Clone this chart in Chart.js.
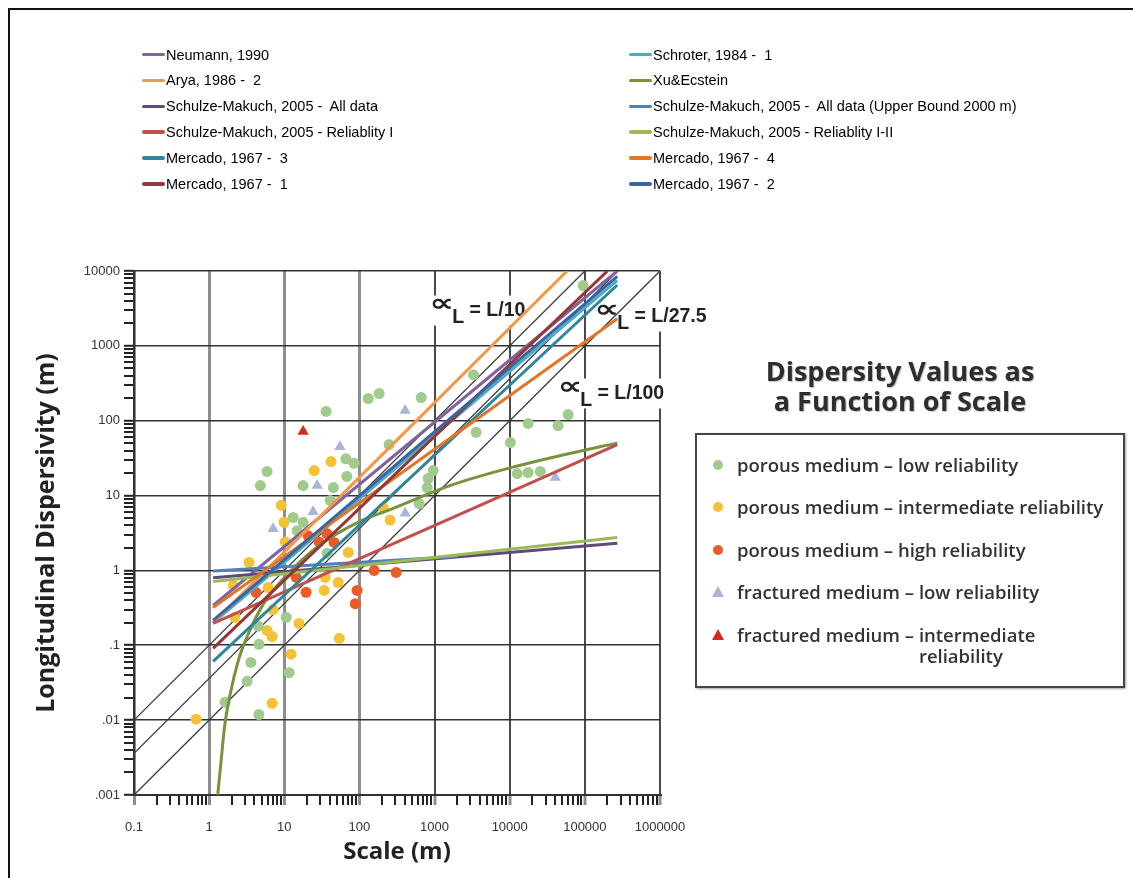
<!DOCTYPE html>
<html>
<head>
<meta charset="utf-8">
<title>Dispersity Values as a Function of Scale</title>
<script src="https://cdn.jsdelivr.net/npm/chart.js@4.4.1/dist/chart.umd.min.js"></script>
<style>
  body { margin: 0; background: #fff; }
  #pagina { position: relative; width: 1133px; height: 878px; overflow: hidden; background: #fff; }
  #marco { position: absolute; left: 8px; top: 8px; width: 1140px; height: 890px; border-left: 2px solid #111; border-top: 2px solid #111; }
  #grafico { position: absolute; left: 0; top: 0; }
  .muestra { position: absolute; width: 23px; height: 3.5px; border-radius: 2px; }
  .serie { position: absolute; font: 14.5px "Liberation Sans", Arial, sans-serif; color: #000; white-space: pre; line-height: 18px; }
  #titulo { position: absolute; left: 685px; top: 356px; width: 430px; text-align: center;
            font: 700 27px/30px "Open Sans", sans-serif; color: #2e2e2e; text-shadow: 1px 1px 1px rgba(0,0,0,0.25); }
  #caja { position: absolute; left: 695px; top: 433px; width: 426px; height: 251px; border: 2px solid #444;
          box-shadow: 1px 1px 2px rgba(0,0,0,0.35); }
  .item { position: absolute; left: 737px; width: 380px; display: flex; font: 600 18.5px/21px "Open Sans", sans-serif; color: #333; }
  .item span { white-space: pre; }
  .item .resto { white-space: normal; }
  .marca { position: absolute; }
</style>
</head>
<body>
<div id="pagina">
  <div id="marco"></div>
  <canvas id="grafico" width="1133" height="878"></canvas>
  <div id="titulo">Dispersity Values as<br>a Function of Scale</div>
  <div id="caja"></div>
</div>
<script>
// Etiquetas de los ejes
const xTickLabels = ["0.1", "1", "10", "100", "1000", "10000", "100000", "1000000"];
const yTickLabels = [".001", ".01", ".1", "1", "10", "100", "1000", "10000"];

// Curvas de los modelos [escala (m), dispersividad (m)]
const neumann = [[1.13, 0.34], [270000, 10000]];
const schroter = [[1.13, 0.2], [270000, 7500]];
const arya = [[1.13, 0.2], [58000, 10000]];
const xuEckstein = [[1.3, 0.001], [1.45, 0.003], [1.6, 0.008], [1.9, 0.022], [2.45, 0.063], [3.2, 0.13],
  [5.3, 0.36], [10, 0.8], [30, 2.2], [100, 4.5], [256, 6.5], [1600, 13.6], [11000, 24], [160000, 45], [270000, 50]];
const smAllData = [[1.13, 0.8], [270000, 2.3]];
const smUpperBound = [[1.13, 0.98], [2000, 1.53]];
const smRelI = [[1.13, 0.196], [270000, 48]];
const smRelIII = [[1.13, 0.71], [270000, 2.75]];
const mercado3 = [[1.13, 0.061], [270000, 6500]];
const mercado4 = [[1.13, 0.32], [270000, 2300]];
const mercado1 = [[1.13, 0.091], [200000, 10000]];
const mercado2 = [[1.13, 0.215], [270000, 8500]];

const seriesNames = ["Neumann, 1990", "Schroter, 1984 -  1", "Arya, 1986 -  2", "Xu&Ecstein",
  "Schulze-Makuch, 2005 -  All data", "Schulze-Makuch, 2005 -  All data (Upper Bound 2000 m)",
  "Schulze-Makuch, 2005 - Reliablity I", "Schulze-Makuch, 2005 - Reliablity I-II",
  "Mercado, 1967 -  3", "Mercado, 1967 -  4", "Mercado, 1967 -  1", "Mercado, 1967 -  2"];
const seriesData = [neumann, schroter, arya, xuEckstein, smAllData, smUpperBound, smRelI, smRelIII,
  mercado3, mercado4, mercado1, mercado2];

// Rectas de referencia aL = L/10, L/27.5, L/100
const refL10 = [[0.1, 0.01], [100000, 10000]];
const refL27 = [[0.1, 0.0036], [275000, 10000]];
const refL100 = [[0.1, 0.001], [1000000, 10000]];
const refTexts = ["= L/10", "= L/27.5", "= L/100"];
const refAnchors = [[929, 2540], [146000, 2110], [47000, 198]];

// Datos medidos [escala (m), dispersividad (m)]
const porousLow = [[95000, 6400], [3300, 410], [36, 133], [131, 198], [183, 231], [664, 204], [5.9, 21], [4.8, 13.6],
  [17.8, 13.6], [45, 12.8], [66, 31], [85, 27], [68, 18], [248, 48], [41, 8.6], [13.1, 5.1], [17.8, 4.4], [14.8, 3.4],
  [37, 1.7], [4.5, 0.18], [4.6, 0.103], [3.6, 0.059], [3.2, 0.033], [1.63, 0.0173], [4.6, 0.0119], [10.6, 0.236],
  [11.6, 0.043], [3580, 70], [10200, 51], [17600, 92], [44000, 86], [60000, 121], [12600, 19.7], [17600, 20.3],
  [25500, 21], [957, 21.6], [822, 16.9], [797, 12.8], [624, 7.8]];
const porousIntermediate = [[42, 28.5], [25, 21.6], [9.1, 7.4], [9.9, 4.4], [10.3, 2.4], [3.4, 1.28], [71, 1.74],
  [35, 0.81], [52, 0.69], [34, 0.54], [6.1, 0.59], [2.1, 0.63], [7.1, 0.3], [2.2, 0.236], [15.7, 0.196], [5.9, 0.158],
  [6.9, 0.131], [54, 0.124], [12.3, 0.076], [6.9, 0.0168], [0.67, 0.0103], [207, 6.9], [256, 4.7]];
const porousHigh = [[20.8, 2.9], [37, 3.1], [29, 2.4], [46, 2.37], [14.4, 0.81], [19.5, 0.51], [93, 0.54],
  [88, 0.36], [157, 1.0], [308, 0.94], [4.2, 0.51]];
const fracturedLow = [[406, 137], [40400, 17.5], [55, 45], [27.4, 13.6], [24.2, 6.1], [7.1, 3.6], [406, 5.8]];
const fracturedIntermediate = [[17.8, 72]];

const pointNames = ["porous medium – low reliability", "porous medium – intermediate reliability",
  "porous medium – high reliability", "fractured medium – low reliability",
  "fractured medium – intermediate reliability"];
const pointData = [porousLow, porousIntermediate, porousHigh, fracturedLow, fracturedIntermediate];

// Estilos
const seriesColors = ["#8064A2", "#4BACC6", "#F79646", "#77933C", "#604A7B", "#4F81BD",
  "#C0504D", "#9BBB59", "#31859C", "#E07628", "#953735", "#3B64A5"];
const pointColors = ["#A0CB8C", "#F4C234", "#EC5A26", "#A8B5D6", "#D42A1E"];
const pointShapes = ["circle", "circle", "circle", "triangle", "triangle"];

const toPts = arr => arr.map(p => ({ x: p[0], y: p[1] }));

const datasets = [];
[refL10, refL27, refL100].forEach(r => {
  datasets.push({ data: toPts(r), showLine: true, borderColor: "#3c3c3c", borderWidth: 1.3,
    pointRadius: 0, order: 100 });
});
pointData.forEach((d, i) => {
  datasets.push({ label: pointNames[i], data: toPts(d), backgroundColor: pointColors[i], borderWidth: 0,
    pointStyle: pointShapes[i], pointRadius: pointShapes[i] === "triangle" ? 6.5 : 5.5, order: 50 });
});
seriesData.forEach((d, i) => {
  datasets.push({ label: seriesNames[i], data: toPts(d), showLine: true, borderColor: seriesColors[i],
    borderWidth: 3, pointRadius: 0, cubicInterpolationMode: "monotone", order: 20 - i });
});

// Marcas del eje logaritmico: decadas y subdivisiones 2..9
function logTicks(labels) {
  const vals = labels.map(Number);
  const ticks = [];
  vals.forEach((v, i) => {
    ticks.push({ value: v, major: true });
    if (i < vals.length - 1) {
      for (let m = 2; m <= 9; m++) ticks.push({ value: v * m, major: false });
    }
  });
  return ticks;
}
function esDecada(v) {
  const l = Math.log10(v);
  return Math.abs(l - Math.round(l)) < 1e-9;
}
function etiqueta(labels) {
  return v => {
    const hit = labels.find(l => Math.abs(Number(l) - v) / v < 1e-9);
    return hit === undefined ? "" : hit;
  };
}

// Textos aL = L/n sobre fondo blanco
const refLabelPlugin = {
  id: "refLabels",
  beforeDatasetsDraw(chart) {
    const { ctx, scales: { x, y } } = chart;
    ctx.save();
    refAnchors.forEach((a, i) => {
      const px = x.getPixelForValue(a[0]);
      const py = y.getPixelForValue(a[1]);
      ctx.font = 'bold 19.5px "Liberation Sans"';
      const w2 = ctx.measureText("L").width;
      const w3 = ctx.measureText(" " + refTexts[i]).width;
      const w1 = 20;
      ctx.fillStyle = "#fff";
      ctx.fillRect(px - 3, py - 20, w1 + w2 + w3 + 6, 30);
      ctx.fillStyle = "#222";
      ctx.textBaseline = "alphabetic";
      ctx.fillText("L", px + w1, py + 7);
      ctx.fillText(" " + refTexts[i], px + w1 + w2, py);
      // simbolo de proporcionalidad escalado a su caja (19 x 11 px)
      ctx.font = 'bold 40px "DejaVu Sans"';
      const m = ctx.measureText("∝");
      const gw = m.actualBoundingBoxLeft + m.actualBoundingBoxRight;
      const gh = m.actualBoundingBoxAscent + m.actualBoundingBoxDescent;
      ctx.save();
      ctx.translate(px, py - 17);
      ctx.scale(19 / gw, 11 / gh);
      ctx.textBaseline = "alphabetic";
      ctx.fillText("∝", m.actualBoundingBoxLeft, m.actualBoundingBoxAscent);
      ctx.restore();
    });
    ctx.restore();
  }
};

const tickFont = { family: "Liberation Sans", size: 13 };

new Chart(document.getElementById("grafico"), {
  type: "scatter",
  data: { datasets: datasets },
  options: {
    responsive: false,
    animation: false,
    events: [],
    devicePixelRatio: 1,
    layout: { padding: { left: 30, right: 473, top: 271, bottom: 11 } },
    plugins: { legend: { display: false }, tooltip: { enabled: false } },
    scales: {
      x: {
        type: "logarithmic",
        min: 0.1,
        max: 1000000,
        afterBuildTicks: s => { s.ticks = logTicks(xTickLabels); },
        afterFit: s => { s.height = 72; },
        ticks: { autoSkip: false, maxRotation: 0, padding: 15, color: "#333", font: tickFont,
          callback: etiqueta(xTickLabels) },
        grid: {
          color: c => !esDecada(c.tick.value) ? "rgba(0,0,0,0)" : (c.tick.value <= 100 ? "#8e8e8e" : "#4a4a4a"),
          lineWidth: c => !esDecada(c.tick.value) ? 0 : (c.tick.value <= 100 ? 3 : 2),
          tickColor: c => esDecada(c.tick.value) ? "#8e8e8e" : "#222",
          tickWidth: c => esDecada(c.tick.value) ? 3 : 2,
          tickLength: 10
        },
        border: { color: "#333", width: 2 },
        title: { display: true, text: "Scale (m)", color: "#222", padding: { top: 0, bottom: 0 },
          font: { family: "Open Sans", size: 24, weight: "bold" } }
      },
      y: {
        type: "logarithmic",
        min: 0.001,
        max: 10000,
        afterBuildTicks: s => { s.ticks = logTicks(yTickLabels); },
        afterFit: s => { s.width = 104; },
        ticks: { autoSkip: false, padding: 4, color: "#333", font: tickFont,
          callback: etiqueta(yTickLabels) },
        grid: {
          color: c => esDecada(c.tick.value) ? "#333" : "rgba(0,0,0,0)",
          lineWidth: c => esDecada(c.tick.value) ? 1.6 : 0,
          tickColor: "#222",
          tickWidth: 2,
          tickLength: 10
        },
        border: { color: "#333", width: 2 },
        title: { display: true, text: "Longitudinal Dispersivity (m)", color: "#222", padding: { top: 2, bottom: 0 },
          font: { family: "Open Sans", size: 25, weight: "bold" } }
      }
    }
  },
  plugins: [refLabelPlugin]
});

// Leyenda superior (dos columnas)
const pagina = document.getElementById("pagina");
seriesNames.forEach((name, i) => {
  const col = i % 2, row = Math.floor(i / 2);
  const left = col === 0 ? 142 : 629;
  const cy = 54.5 + row * 25.9;
  const m = document.createElement("div");
  m.className = "muestra";
  m.style.left = left + "px";
  m.style.top = (cy - 1.75) + "px";
  m.style.background = seriesColors[i];
  pagina.appendChild(m);
  const t = document.createElement("div");
  t.className = "serie";
  t.textContent = name;
  t.style.left = (left + 24) + "px";
  t.style.top = (cy - 9) + "px";
  pagina.appendChild(t);
});

// Leyenda de los datos medidos
const filas = [465, 507, 550, 592, 635];
pointNames.forEach((name, i) => {
  const cy = filas[i];
  const mk = document.createElement("div");
  mk.className = "marca";
  if (pointShapes[i] === "circle") {
    mk.style.cssText = "left:713px;top:" + (cy - 5) + "px;width:10px;height:10px;border-radius:50%;background:" + pointColors[i];
  } else {
    mk.style.cssText = "left:712px;top:" + (cy - 6) + "px;width:12px;height:11px;clip-path:polygon(50% 0,100% 100%,0 100%);background:" + pointColors[i];
  }
  pagina.appendChild(mk);
  const parts = name.split(" – ");
  const it = document.createElement("div");
  it.className = "item";
  it.style.top = (cy - 11) + "px";
  const a = document.createElement("span");
  a.textContent = parts[0] + " – ";
  const b = document.createElement("span");
  b.className = "resto";
  b.textContent = parts[1];
  it.appendChild(a);
  it.appendChild(b);
  pagina.appendChild(it);
});
</script>
</body>
</html>
